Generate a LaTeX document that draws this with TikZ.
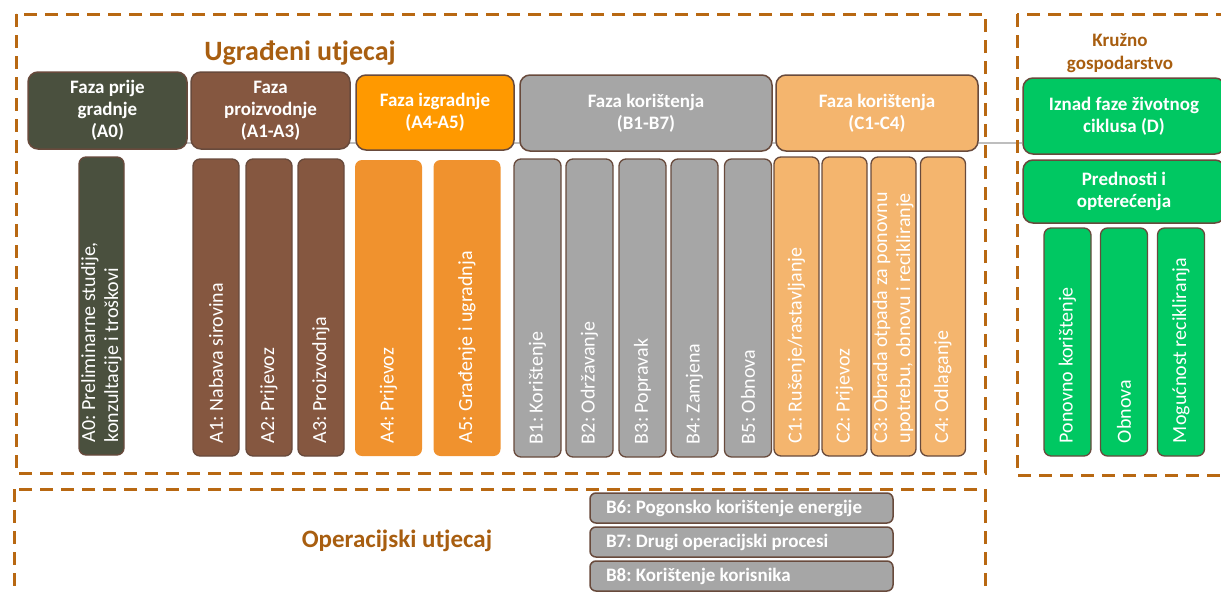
\documentclass[tikz,border=0pt]{standalone}
\usepackage{fontspec}
\setmainfont{Carlito}
\usetikzlibrary{backgrounds}
\definecolor{dashc}{RGB}{184,104,18}
\definecolor{titlec}{RGB}{168,94,16}
\definecolor{bordc}{RGB}{104,74,60}
\definecolor{olive}{RGB}{74,80,62}
\definecolor{brownf}{RGB}{133,87,64}
\definecolor{orangeh}{RGB}{255,153,0}
\definecolor{orangeb}{RGB}{240,146,46}
\definecolor{grayf}{RGB}{166,166,166}
\definecolor{peach}{RGB}{244,181,110}
\definecolor{greenf}{RGB}{0,200,98}
\definecolor{glinec}{RGB}{190,190,190}
\begin{document}
\frenchspacing
\begin{tikzpicture}[x=1pt,y=-1pt,
  dbox/.style={draw=dashc, line width=3pt, dash pattern=on 13pt off 8pt},
  ttl/.style={text=titlec, font=\bfseries\fontsize{#1}{#1}\selectfont, inner sep=0pt, anchor=base},
  hdr/.style={draw=bordc, line width=1.5pt, rounded corners=10pt, text=white, align=center,
    font=\bfseries\fontsize{19}{22}\selectfont, inner sep=0pt},
  vb/.style={rotate=90, draw=bordc, line width=1.3pt, rounded corners=7pt, text=white, align=flush left,
    font=\fontsize{20}{23}\selectfont, inner ysep=0pt, inner xsep=13pt},
  a0bar/.style={vb, fill=olive, minimum width=298pt, minimum height=45pt, text width=272pt},
  abar/.style={vb, fill=brownf, minimum width=297pt, minimum height=46pt, text width=271pt},
  a45bar/.style={vb, draw=none, fill=orangeb, minimum width=296pt, minimum height=67pt, text width=270pt},
  bbar/.style={vb, fill=grayf, minimum width=298pt, minimum height=47pt, text width=272pt},
  cbar/.style={vb, fill=peach, minimum width=299pt, minimum height=45pt, text width=273pt},
  gbar/.style={vb, fill=greenf, minimum width=228pt, minimum height=47pt, text width=202pt},
  bb/.style={draw=bordc, line width=1.5pt, rounded corners=6pt, fill=grayf, text=white, align=flush left,
    font=\bfseries\fontsize{19}{22}\selectfont, minimum width=303pt, minimum height=30pt,
    text width=271pt, inner xsep=16pt, inner ysep=0pt},
  gline/.style={draw=glinec, line width=1.5pt}
]
\useasboundingbox (0,0) rectangle (1221,592);
\clip (0,0) rectangle (1221,592);

% dashed frames
\draw[dbox] (16,14) rectangle (985,473);
\draw[dbox] (14,489) rectangle (985,640);
\draw[dbox] (1017,14) rectangle (1250,475);

% titles
\node[ttl=28] (tU) at (300,60) {Ugrađeni utjecaj};
\node[ttl=25] (tO) at (397,547) {Operacijski utjecaj};
\node[text=titlec, font=\bfseries\fontsize{19}{23}\selectfont, align=center, inner sep=0pt] (tK) at (1120,53) {Kružno\\gospodarstvo};

% header boxes
\node[hdr, fill=olive, minimum width=159pt, minimum height=77pt] (A0h) at (107.5,110.5) {Faza prije\\gradnje\\(A0)};
\node[hdr, fill=brownf, minimum width=159pt, minimum height=77pt] (A13h) at (270.5,110.5) {Faza\\proizvodnje\\(A1-A3)};
\node[hdr, fill=orangeh, minimum width=158pt, minimum height=75pt] (A45h) at (435,112.5) {Faza izgradnje\\(A4-A5)};
\node[hdr, fill=grayf, minimum width=252pt, minimum height=76pt] (Bh) at (646,113) {Faza korištenja\\(B1-B7)};
\node[hdr, fill=peach, minimum width=202pt, minimum height=76pt] (Ch) at (877,113) {Faza korištenja\\(C1-C4)};
\node[hdr, fill=greenf, minimum width=202pt, minimum height=76pt] (Dh) at (1124,116) {Iznad faze životnog\\ciklusa (D)};
\node[hdr, fill=greenf, minimum width=202pt, minimum height=63pt] (Ph) at (1124,191.5) {Prednosti i\\opterećenja};

% connecting line behind headers
\begin{scope}[on background layer]
\coordinate (Ls) at (30,143);
\draw[gline] (Ls) -- (Ls -| Dh.west);
\end{scope}

% vertical bars
\node[a0bar] (A0) at (101.5,306) {A0: Preliminarne studije,\\konzultacije i troškovi};
\node[abar] (A1) at (216,307.5) {A1: Nabava sirovina};
\node[abar] (A2) at (269,307.5) {A2: Prijevoz};
\node[abar] (A3) at (321,307.5) {A3: Proizvodnja};
\node[a45bar] (A4) at (388.5,308) {A4: Prijevoz};
\node[a45bar] (A5) at (467,308) {A5: Građenje i ugradnja};
\node[bbar] (B1) at (537.5,308) {B1: Korištenje};
\node[bbar] (B2) at (589.5,308) {B2: Održavanje};
\node[bbar] (B3) at (642.5,308) {B3: Popravak};
\node[bbar] (B4) at (694.5,308) {B4: Zamjena};
\node[bbar] (B5) at (748,308) {B5: Obnova};
\node[cbar] (C1) at (796.5,306.5) {C1: Rušenje/rastavljanje};
\node[cbar] (C2) at (844.5,306.5) {C2: Prijevoz};
\node[cbar] (C3) at (893.5,306.5) {C3: Obrada otpada za ponovnu\\upotrebu, obnovu i recikliranje};
\node[cbar] (C4) at (943,306.5) {C4: Odlaganje};
\node[gbar] (G1) at (1067.5,342) {Ponovno korištenje};
\node[gbar] (G2) at (1124,342) {Obnova};
\node[gbar] (G3) at (1181,342) {Mogućnost recikliranja};

% operational boxes
\node[bb] (B6) at (741.5,508) {B6: Pogonsko korištenje energije};
\node[bb] (B7) at (741.5,542) {B7: Drugi operacijski procesi};
\node[bb] (B8) at (741.5,576) {B8: Korištenje korisnika};
\end{tikzpicture}
\end{document}
